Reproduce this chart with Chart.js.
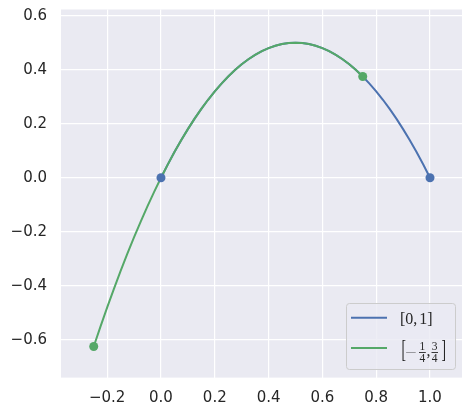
<!DOCTYPE html>
<html>
<head>
<meta charset="utf-8">
<script src="https://cdn.jsdelivr.net/npm/chart.js@4"></script>
<style>
html,body{margin:0;padding:0;background:#fff;}
canvas{display:block;}
</style>
</head>
<body>
<canvas id="c" width="473" height="417"></canvas>
<script>
// ---- data ----
const blueX = [0,0.025,0.05,0.075,0.1,0.125,0.15,0.175,0.2,0.225,0.25,0.275,0.3,0.325,0.35,0.375,0.4,0.425,0.45,0.475,0.5,0.525,0.55,0.575,0.6,0.625,0.65,0.675,0.7,0.725,0.75,0.775,0.8,0.825,0.85,0.875,0.9,0.925,0.95,0.975,1.0];
const blueY = [0,0.04875,0.095,0.13875,0.18,0.21875,0.255,0.28875,0.32,0.34875,0.375,0.39875,0.42,0.43875,0.455,0.46875,0.48,0.48875,0.495,0.49875,0.5,0.49875,0.495,0.48875,0.48,0.46875,0.455,0.43875,0.42,0.39875,0.375,0.34875,0.32,0.28875,0.255,0.21875,0.18,0.13875,0.095,0.04875,0];
const greenX = [-0.25,-0.225,-0.2,-0.175,-0.15,-0.125,-0.1,-0.075,-0.05,-0.025,0,0.025,0.05,0.075,0.1,0.125,0.15,0.175,0.2,0.225,0.25,0.275,0.3,0.325,0.35,0.375,0.4,0.425,0.45,0.475,0.5,0.525,0.55,0.575,0.6,0.625,0.65,0.675,0.7,0.725,0.75];
const greenY = [-0.625,-0.55125,-0.48,-0.41125,-0.345,-0.28125,-0.22,-0.16125,-0.105,-0.05125,0,0.04875,0.095,0.13875,0.18,0.21875,0.255,0.28875,0.32,0.34875,0.375,0.39875,0.42,0.43875,0.455,0.46875,0.48,0.48875,0.495,0.49875,0.5,0.49875,0.495,0.48875,0.48,0.46875,0.455,0.43875,0.42,0.39875,0.375];
const blueEndX = [0, 1];
const blueEndY = [0, 0];
const greenEndX = [-0.25, 0.75];
const greenEndY = [-0.625, 0.375];
const xTickVals = [-0.2, 0.0, 0.2, 0.4, 0.6, 0.8, 1.0];
const yTickVals = [-0.6, -0.4, -0.2, 0.0, 0.2, 0.4, 0.6];
const legendLabels = ['[0,1]', '[-1/4,3/4]'];

const BLUE = '#4C72B0', GREEN = '#55A868', TXT = '#262626';
const pts = (xs, ys) => xs.map((x, i) => ({x: x, y: ys[i]}));
const fmt = v => { const s = (Math.abs(v) < 1e-9 ? 0 : v).toFixed(1); return s.replace('-', '\u2212'); };

const bgPlugin = {
  id: 'bg',
  beforeDraw(chart) {
    const a = chart.chartArea, ctx = chart.ctx;
    ctx.save();
    ctx.fillStyle = '#EAEAF2';
    ctx.fillRect(a.left, a.top, a.right - a.left, a.bottom - a.top);
    ctx.restore();
  }
};

function drawFit(ctx, text, xLeft, width, yTop, height, font) {
  ctx.save();
  ctx.font = font;
  ctx.textBaseline = 'alphabetic';
  ctx.textAlign = 'left';
  const m = ctx.measureText(text);
  const gw = m.actualBoundingBoxRight + m.actualBoundingBoxLeft;
  const gh = m.actualBoundingBoxAscent + m.actualBoundingBoxDescent;
  const sx = width / gw, sy = height / gh;
  ctx.translate(xLeft, yTop);
  ctx.scale(sx, sy);
  ctx.fillText(text, m.actualBoundingBoxLeft, m.actualBoundingBoxAscent);
  ctx.restore();
}

const legendPlugin = {
  id: 'mathLegend',
  afterDraw(chart) {
    const ctx = chart.ctx;
    const bx = 346.5, by = 303.5, bw = 109, bh = 66;
    ctx.save();
    ctx.beginPath();
    ctx.roundRect(bx, by, bw, bh, 3);
    ctx.fillStyle = 'rgba(234,234,242,0.8)';
    ctx.fill();
    ctx.lineWidth = 1;
    ctx.strokeStyle = '#CCCCCC';
    ctx.stroke();
    // handles
    ctx.lineWidth = 2;
    ctx.strokeStyle = BLUE;
    ctx.beginPath(); ctx.moveTo(351, 317.7); ctx.lineTo(387, 317.7); ctx.stroke();
    ctx.strokeStyle = GREEN;
    ctx.beginPath(); ctx.moveTo(351, 348); ctx.lineTo(387, 348); ctx.stroke();
    ctx.fillStyle = TXT;
    const F = '"Liberation Serif", "DejaVu Serif", serif';
    // entry 1: [0,1]
    ctx.font = '16px ' + F;
    ctx.textBaseline = 'alphabetic';
    ctx.fillText('[0,', 400, 323.8);
    const w1 = ctx.measureText('[0,').width;
    ctx.fillText('1]', 400 + w1 + 2, 323.8);
    // entry 2: [-1/4, 3/4]
    drawFit(ctx, '[', 402.3, 3.6, 341, 21.3, '15px ' + F);
    drawFit(ctx, '\u2212', 405.5, 11, 351.2, 1.1, '15px ' + F);
    ctx.font = '11.5px ' + F;
    ctx.textAlign = 'center';
    ctx.fillText('1', 422.3, 349.8);
    ctx.fillText('4', 422.3, 362);
    ctx.fillText('3', 434.7, 349.8);
    ctx.fillText('4', 434.7, 362);
    ctx.fillRect(419, 352, 6.8, 0.9);
    ctx.fillRect(431.5, 352, 6.5, 0.9);
    ctx.font = '16px ' + F;
    ctx.textAlign = 'left';
    ctx.fillText(',', 426.4, 355.5);
    drawFit(ctx, ']', 441.6, 3.6, 341, 21.3, '15px ' + F);
    ctx.restore();
  }
};

const tickFont = {family: '"DejaVu Sans", sans-serif', size: 15};

new Chart(document.getElementById('c'), {
  type: 'scatter',
  data: {
    datasets: [
      {label: 'blueEnds', data: pts(blueEndX, blueEndY), backgroundColor: BLUE, borderColor: BLUE, pointRadius: 4.5, pointBorderWidth: 0, order: 0},
      {label: 'greenEnds', data: pts(greenEndX, greenEndY), backgroundColor: GREEN, borderColor: GREEN, pointRadius: 4.5, pointBorderWidth: 0, order: 0},
      {label: legendLabels[1], data: pts(greenX, greenY), showLine: true, borderColor: GREEN, backgroundColor: GREEN, borderWidth: 2, pointRadius: 0, tension: 0, order: 1},
      {label: legendLabels[0], data: pts(blueX, blueY), showLine: true, borderColor: BLUE, backgroundColor: BLUE, borderWidth: 2, pointRadius: 0, tension: 0, order: 2}
    ]
  },
  options: {
    responsive: false,
    animation: false,
    devicePixelRatio: 1,
    layout: {padding: {top: 9.5, right: 11, left: 0, bottom: 0}},
    plugins: {legend: {display: false}, tooltip: {enabled: false}},
    scales: {
      x: {
        type: 'linear', min: -0.3717, max: 1.119,
        grid: {color: '#FFFFFF', lineWidth: 1.2, drawTicks: false},
        border: {display: false},
        ticks: {font: tickFont, color: TXT, padding: 12, callback: v => fmt(v)},
        afterBuildTicks: s => { s.ticks = xTickVals.map(v => ({value: v})); },
        afterFit: s => { s.height = 39.4; s.paddingLeft = 0; s.paddingRight = 0; }
      },
      y: {
        type: 'linear', min: -0.740, max: 0.623,
        grid: {color: '#FFFFFF', lineWidth: 1.2, drawTicks: false},
        border: {display: false},
        ticks: {font: tickFont, color: TXT, padding: 14, callback: v => fmt(v)},
        afterBuildTicks: s => { s.ticks = yTickVals.map(v => ({value: v})); },
        afterFit: s => { s.width = 61; s.paddingTop = 0; s.paddingBottom = 0; }
      }
    }
  },
  plugins: [bgPlugin, legendPlugin]
});
</script>
</body>
</html>
